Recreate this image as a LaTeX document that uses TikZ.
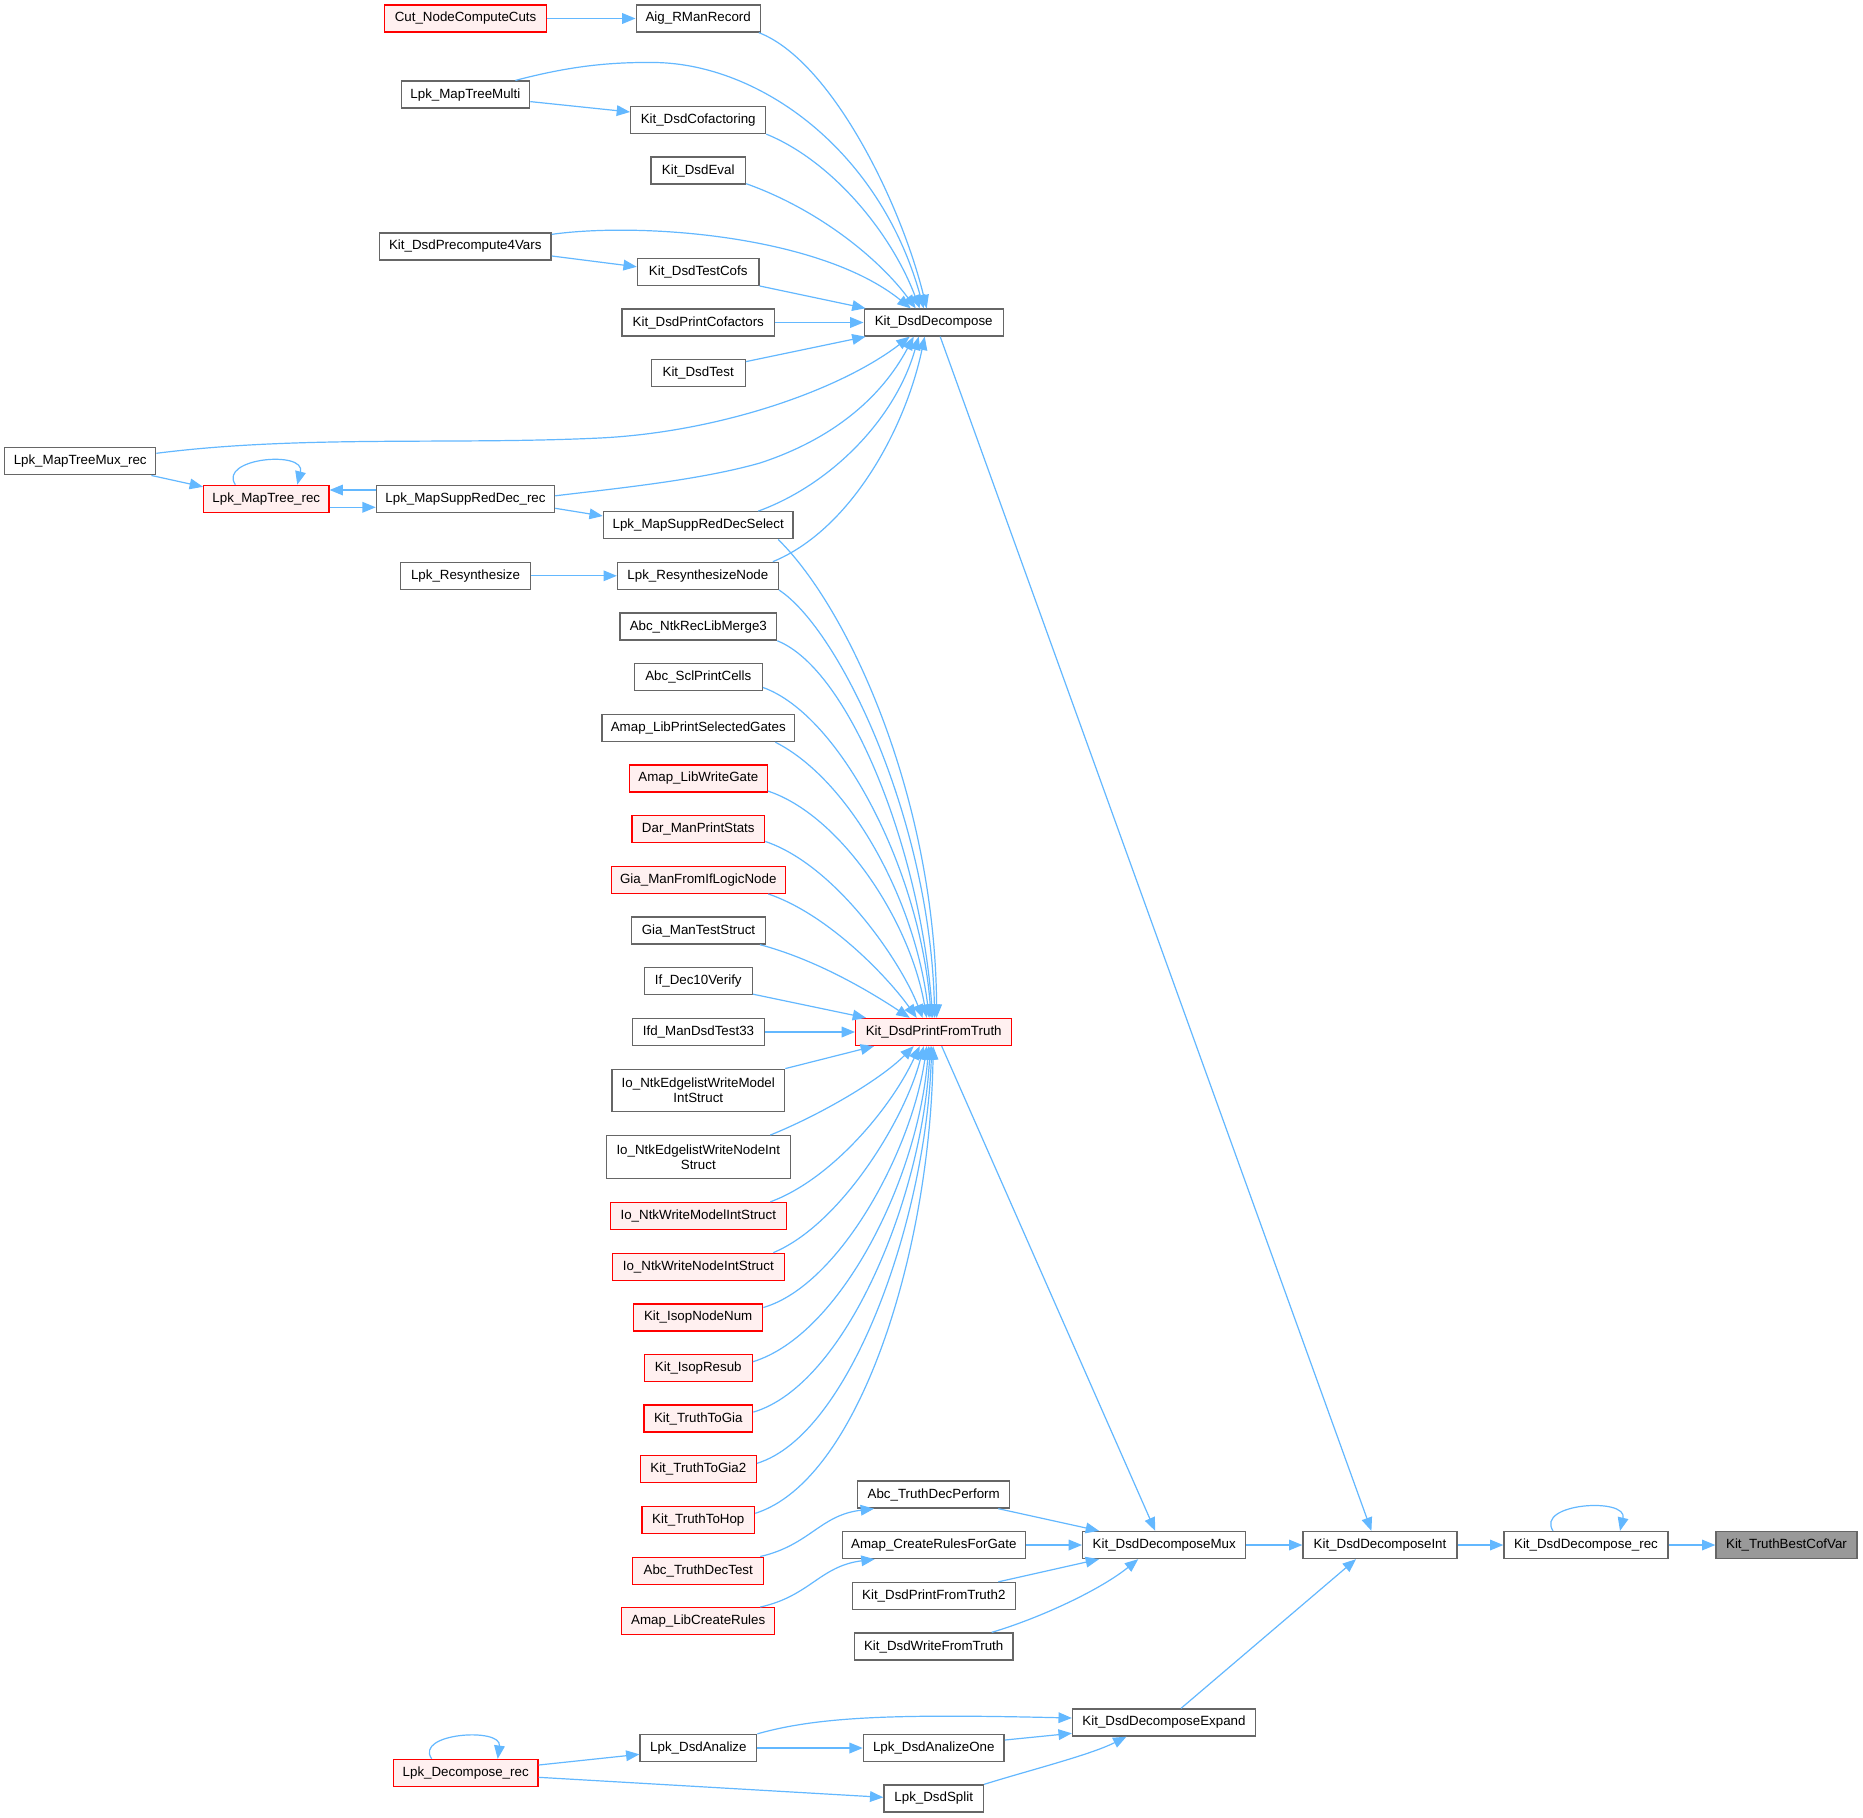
\documentclass[tikz,border=0pt]{standalone}
\usepackage{fontspec}
\setmainfont{Liberation Sans}
\usetikzlibrary{arrows.meta,calc}
\definecolor{edgecol}{HTML}{63B8FF}
\definecolor{nodeborder}{HTML}{666666}
\definecolor{hotfill}{HTML}{FFF0F0}
\definecolor{hotborder}{HTML}{FF0000}
\definecolor{targetfill}{HTML}{999999}
\begin{document}
\begin{tikzpicture}[x=0.75pt,y=-0.75pt,
  box/.style={draw=nodeborder, fill=white, line width=1pt, minimum height=20.25pt,
    inner xsep=1pt, inner ysep=0pt, align=center, font=\fontsize{10}{11.5}\selectfont},
  wd/.style={minimum width=#1*0.75pt},
  tall/.style={minimum height=#1*0.75pt},
  hot/.style={draw=hotborder, fill=hotfill},
  target/.style={fill=targetfill, draw=nodeborder},
  link/.style={draw=edgecol, line width=0.9pt, -{Triangle[length=10pt,width=8pt]}}]
\fill[white] (0,0) rectangle (1863,1817);
\useasboundingbox (0,0) rectangle (1863,1817);

% nodes
\node[box,hot,wd=162] (cut) at (465.6,18.5) {Cut\_NodeComputeCuts};
\node[box,wd=124] (aig) at (698.2,18.5) {Aig\_RManRecord};
\node[box,wd=128.4] (mtm) at (465.4,94.6) {Lpk\_MapTreeMulti};
\node[box,wd=135] (cof) at (698.2,120) {Kit\_DsdCofactoring};
\node[box,wd=94.5] (eval) at (698.2,170.5) {Kit\_DsdEval};
\node[box,wd=171.7] (pre4) at (465.3,246.5) {Kit\_DsdPrecompute4Vars};
\node[box,wd=121.5] (tcofs) at (698.2,271.8) {Kit\_DsdTestCofs};
\node[box,wd=152.6] (pcof) at (698.3,322.5) {Kit\_DsdPrintCofactors};
\node[box,wd=139] (dec) at (933.7,322.5) {Kit\_DsdDecompose};
\node[box,wd=94] (test) at (698.2,373.3) {Kit\_DsdTest};
\node[box,wd=151] (mtmux) at (80.2,461.3) {Lpk\_MapTreeMux\_rec};
\node[box,hot,wd=125.3] (mtree) at (266.3,498.8) {Lpk\_MapTree\_rec};
\node[box,wd=178.2] (srdrec) at (465.5,498.8) {Lpk\_MapSuppRedDec\_rec};
\node[box,wd=189.5] (srdsel) at (698.2,525.3) {Lpk\_MapSuppRedDecSelect};
\node[box,wd=130] (resyn) at (465.5,575.8) {Lpk\_Resynthesize};
\node[box,wd=160.8] (resnode) at (697.9,575.8) {Lpk\_ResynthesizeNode};
\node[box,wd=156.7] (merge3) at (698.3,626.6) {Abc\_NtkRecLibMerge3};
\node[box,wd=128] (scl) at (698.3,677.3) {Abc\_SclPrintCells};
\node[box,wd=192.7] (apsg) at (698.3,728) {Amap\_LibPrintSelectedGates};
\node[box,hot,wd=138] (awg) at (698.3,778.4) {Amap\_LibWriteGate};
\node[box,hot,wd=132.7] (dar) at (698.3,829.3) {Dar\_ManPrintStats};
\node[box,hot,wd=174] (gia1) at (698.3,879.8) {Gia\_ManFromIfLogicNode};
\node[box,wd=133.6] (giats) at (698.5,930.5) {Gia\_ManTestStruct};
\node[box,wd=108] (if10) at (698.3,981) {If\_Dec10Verify};
\node[box,wd=131.6] (ifd33) at (698.5,1032) {Ifd\_ManDsdTest33};
\node[box,hot,wd=156] (pft) at (933.7,1032) {Kit\_DsdPrintFromTruth};
\node[box,wd=172.7,tall=42.5] (ioewm) at (698.3,1090.5) {Io\_NtkEdgelistWriteModel\\IntStruct};
\node[box,wd=184,tall=43] (ioewn) at (698.3,1157.2) {Io\_NtkEdgelistWriteNodeInt\\Struct};
\node[box,hot,wd=176] (iowm) at (698.3,1216) {Io\_NtkWriteModelIntStruct};
\node[box,hot,wd=172] (iown) at (698.3,1266.8) {Io\_NtkWriteNodeIntStruct};
\node[box,hot,wd=129] (isopnn) at (698.2,1317.5) {Kit\_IsopNodeNum};
\node[box,hot,wd=108] (isopres) at (698.3,1368.2) {Kit\_IsopResub};
\node[box,hot,wd=108.7] (tgia) at (698.3,1418.6) {Kit\_TruthToGia};
\node[box,hot,wd=116] (tgia2) at (698.3,1469.3) {Kit\_TruthToGia2};
\node[box,hot,wd=112.7] (thop) at (698.3,1519.7) {Kit\_TruthToHop};
\node[box,hot,wd=131] (atdt) at (698.2,1570.7) {Abc\_TruthDecTest};
\node[box,hot,wd=153] (alcr) at (698.2,1621.2) {Amap\_LibCreateRules};
\node[box,wd=152] (atdp) at (933.7,1494.5) {Abc\_TruthDecPerform};
\node[box,wd=183] (acrg) at (933.8,1545) {Amap\_CreateRulesForGate};
\node[box,wd=163] (pft2) at (933.8,1596) {Kit\_DsdPrintFromTruth2};
\node[box,wd=158.7] (dwft) at (933.7,1646.5) {Kit\_DsdWriteFromTruth};
\node[box,wd=163] (mux) at (1164.2,1545) {Kit\_DsdDecomposeMux};
\node[box,wd=154] (int) at (1380,1545) {Kit\_DsdDecomposeInt};
\node[box,wd=164] (drec) at (1586,1545) {Kit\_DsdDecompose\_rec};
\node[box,target,wd=141] (best) at (1786.5,1545) {Kit\_TruthBestCofVar};
\node[box,wd=183] (expand) at (1164,1722.5) {Kit\_DsdDecomposeExpand};
\node[box,wd=116.6] (ana) at (698.4,1748) {Lpk\_DsdAnalize};
\node[box,wd=140.7] (anaone) at (933.8,1748) {Lpk\_DsdAnalizeOne};
\node[box,hot,wd=144.7] (lpkrec) at (465.7,1773) {Lpk\_Decompose\_rec};
\node[box,wd=99.4] (split) at (933.7,1798.5) {Lpk\_DsdSplit};

% edges into Kit_DsdDecompose
\draw[link] (cut.east) -- (aig.west);
\draw[link] ($(aig.south east)+(-2,0)$) .. controls (830,60) and (900,200) .. ($(dec.north)+(-7,0)$);
\draw[link] ($(mtm.north)+(50,0)$) .. controls (570,66) and (610,62) .. (655,62.5) .. controls (760,64) and (880,150) .. ($(dec.north)+(-10,0)$);
\draw[link] ($(mtm.east)+(0,7)$) -- ($(cof.west)+(0,-8)$);
\draw[link] (cof.south east) .. controls (830,160) and (890,230) .. ($(dec.north)+(-14,0)$);
\draw[link] ($(eval.south east)+(0,-1)$) .. controls (820,210) and (880,260) .. ($(dec.north)+(-18,0)$);
\draw[link] ($(pre4.north east)+(0,2)$) .. controls (640,222) and (820,235) .. ($(dec.north)+(-23,0)$);
\draw[link] ($(pre4.east)+(0,9.5)$) -- ($(tcofs.west)+(0,-5)$);
\draw[link] (tcofs.south east) -- ($(dec.north west)+(2,0)$);
\draw[link] (pcof.east) -- (dec.west);
\draw[link] ($(test.north east)+(0,2.5)$) -- ($(dec.south west)+(2,0)$);
\draw[link] ($(mtmux.east)+(0,-8)$) .. controls (300,435) and (450,445) .. (600,438) .. controls (720,432) and (840,390) .. ($(dec.south)+(-24,0)$);
\draw[link] ($(mtmux.south east)+(-5,0)$) -- ($(mtree.west)+(0,-12)$);
\draw[link] ($(mtree.north)+(-31,0)$) .. controls (218,458) and (306,450) .. ($(mtree.north)+(31,0)$);
\draw[link] ($(mtree.east)+(0,8.5)$) -- ($(srdrec.west)+(0,8.5)$);
\draw[link] ($(srdrec.west)+(0,-8.8)$) -- ($(mtree.east)+(0,-8.8)$);
\draw[link] ($(srdrec.east)+(0,-3)$) .. controls (620,488) and (700,480) .. (760,463) .. controls (830,440) and (880,400) .. ($(dec.south)+(-20,0)$);
\draw[link] ($(srdrec.east)+(0,9.5)$) -- ($(srdsel.west)+(0,-9.3)$);
\draw[link] ($(srdsel.north)+(60,0)$) .. controls (830,485) and (895,420) .. ($(dec.south)+(-15,0)$);
\draw[link] ($(resnode.north)+(75,0)$) .. controls (850,530) and (905,430) .. ($(dec.south)+(-9,0)$);
\draw[link] (resyn.east) -- (resnode.west);

% edges into Kit_DsdPrintFromTruth
\draw[link] ($(srdsel.south)+(80,0)$) .. controls (850,610) and (935,800) .. ($(pft.north)+(3,0)$);
\draw[link] (resnode.south east) .. controls (840,630) and (930,820) .. ($(pft.north)+(1,0)$);
\draw[link] (merge3.south east) .. controls (850,670) and (920,850) .. ($(pft.north)+(-1,0)$);
\draw[link] ($(scl.south east)+(0,-4)$) .. controls (840,715) and (920,870) .. ($(pft.north)+(-2.5,0)$);
\draw[link] ($(apsg.south)+(77,0)$) .. controls (850,780) and (915,900) .. ($(pft.north)+(-4.5,0)$);
\draw[link] ($(awg.south east)+(0,-1.5)$) .. controls (840,815) and (910,920) .. ($(pft.north)+(-7,0)$);
\draw[link] ($(dar.south east)+(0,-2)$) .. controls (835,865) and (900,960) .. ($(pft.north)+(-11,0)$);
\draw[link] ($(gia1.south)+(70,0)$) .. controls (830,915) and (890,980) .. ($(pft.north)+(-17,0)$);
\draw[link] ($(giats.south)+(61.5,0)$) .. controls (810,958) and (860,985) .. ($(pft.north)+(-24,0)$);
\draw[link] ($(if10.south east)+(0,-1)$) -- ($(pft.north west)+(11,0)$);
\draw[link] (ifd33.east) -- (pft.west);
\draw[link] (ioewm.north east) -- ($(pft.south west)+(19,0)$);
\draw[link] ($(ioewn.north)+(72,0)$) .. controls (820,1115) and (880,1080) .. ($(pft.south)+(-20,0)$);
\draw[link] ($(iowm.north)+(72,0)$) .. controls (830,1180) and (890,1110) .. ($(pft.south)+(-14,0)$);
\draw[link] ($(iown.north)+(75,0)$) .. controls (840,1225) and (905,1120) .. ($(pft.south)+(-10,0)$);
\draw[link] ($(isopnn.east)+(0,-10)$) .. controls (840,1285) and (912,1150) .. ($(pft.south)+(-7,0)$);
\draw[link] ($(isopres.east)+(0,-6.5)$) .. controls (840,1335) and (918,1180) .. ($(pft.south)+(-5,0)$);
\draw[link] ($(tgia.east)+(0,-6.5)$) .. controls (845,1385) and (922,1200) .. ($(pft.south)+(-3.5,0)$);
\draw[link] ($(tgia2.east)+(0,-6)$) .. controls (850,1435) and (926,1220) .. ($(pft.south)+(-2,0)$);
\draw[link] ($(thop.east)+(0,-6.4)$) .. controls (860,1480) and (930,1250) .. ($(pft.south)+(-0.5,0)$);

% lower part
\draw[link] ($(pft.south)+(8,0)$) -- ($(mux.north)+(-9,0)$);
\draw[link] ($(atdt.north)+(62,0)$) .. controls (810,1545) and (820,1515) .. ($(atdp.south west)+(17,0)$);
\draw[link] ($(alcr.north)+(62,0)$) .. controls (810,1596) and (820,1566) .. ($(acrg.south west)+(33,0)$);
\draw[link] ($(atdp.south)+(64.6,0)$) -- ($(mux.north west)+(17,0)$);
\draw[link] (acrg.east) -- (mux.west);
\draw[link] ($(pft2.north)+(64.5,0)$) -- ($(mux.south west)+(17,0)$);
\draw[link] ($(dwft.north)+(58,0)$) .. controls (1040,1618) and (1100,1590) .. ($(mux.south)+(-26,0)$);
\draw[link] (mux.east) -- (int.west);
\draw[link] ($(expand.north)+(17,0)$) -- ($(int.south)+(-24,0)$);
\draw[link] (int.east) -- (drec.west);
\draw[link] ($(drec.north)+(-33,0)$) .. controls (1535,1503) and (1628,1497) .. ($(drec.north)+(34,0)$);
\draw[link] (drec.east) -- (best.west);
\draw[link] (ana.north east) .. controls (820,1716) and (900,1714) .. ($(expand.west)+(0,-4.5)$);
\draw[link] (ana.east) -- (anaone.west);
\draw[link] ($(anaone.east)+(0,-8)$) -- ($(expand.west)+(0,10.8)$);
\draw[link] ($(lpkrec.north)+(-34,0)$) .. controls (414,1733) and (502,1727) .. ($(lpkrec.north)+(32,0)$);
\draw[link] ($(lpkrec.east)+(0,-8)$) -- ($(ana.west)+(0,6.3)$);
\draw[link] ($(lpkrec.east)+(0,4.3)$) -- ($(split.west)+(0,-1.2)$);
\draw[link] (split.north east) .. controls (1030,1770) and (1090,1755) .. ($(expand.south)+(-37.6,0)$);
\draw[link] ($(dec.south)+(6.5,0)$) -- ($(int.north)+(-8.6,0)$);
\end{tikzpicture}
\end{document}
